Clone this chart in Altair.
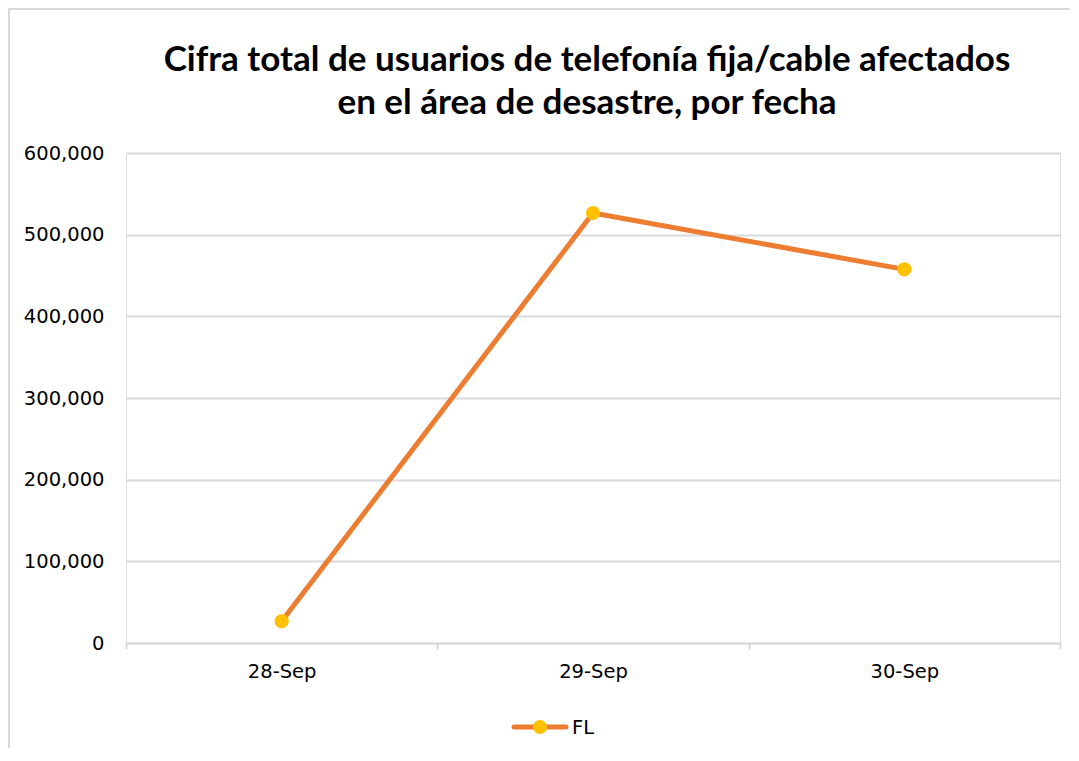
import altair as alt
import pandas as pd

dates = ["28-Sep", "29-Sep", "30-Sep"]
users = [26500, 526500, 457500]
series_name = "FL"
title_lines = ["Cifra total de usuarios de telefonía fija/cable afectados",
               "en el área de desastre, por fecha"]

df = pd.DataFrame({"fecha": dates, "usuarios": users, "serie": [series_name] * len(dates)})
one = pd.DataFrame({"serie": [series_name], "titulo": ["\n".join(title_lines)]})

LINE = "#ED7D31"
DOT = "#FFC000"
GRID = "#D9D9D9"
FONT = "DejaVu Sans"
FS = 19.5

x = alt.X("fecha:N", sort=dates, title=None,
          scale=alt.Scale(type="band", paddingInner=0, paddingOuter=0),
          axis=alt.Axis(labelAngle=0, tickBand="extent", ticks=True, tickSize=6,
                        tickColor=GRID, tickWidth=2, domainColor=GRID, domainWidth=2,
                        labelPadding=13, grid=False, labelFont=FONT, labelFontSize=FS,
                        labelColor="#000000"))
y = alt.Y("usuarios:Q", title=None,
          scale=alt.Scale(domain=[0, 600000], nice=False),
          axis=alt.Axis(values=[0, 100000, 200000, 300000, 400000, 500000, 600000],
                        format=",.0f", ticks=False, domain=False, gridColor=GRID, gridWidth=2,
                        labelPadding=22, labelFont=FONT, labelFontSize=FS,
                        labelColor="#000000"))

line = alt.Chart(df).mark_line(color=LINE, strokeWidth=5).encode(x=x, y=y)
pts = alt.Chart(df).mark_point(filled=True, color=DOT, size=200, opacity=1).encode(x=x, y=y)

frame = alt.Chart(one).mark_rect(fill=None, stroke=GRID, strokeWidth=2).encode(
    x=alt.value(-117), x2=alt.value(990), y=alt.value(-144), y2=alt.value(640))

title = alt.Chart(one).mark_text(font="Lato", fontSize=35, fontWeight="bold", color="#000000",
                                 align="center", baseline="middle", lineBreak="\n",
                                 lineHeight=43).encode(
    x=alt.value(461), y=alt.value(-93), text="titulo:N")

leg_rule = alt.Chart(one).mark_rule(color=LINE, strokeWidth=5, strokeCap="round").encode(
    x=alt.value(388), x2=alt.value(440), y=alt.value(574))
leg_pt = alt.Chart(one).mark_point(filled=True, color=DOT, size=200, opacity=1).encode(
    x=alt.value(414), y=alt.value(574))
leg_txt = alt.Chart(one).mark_text(align="left", baseline="middle", font=FONT, fontSize=FS,
                                   color="#000000").encode(
    x=alt.value(446), y=alt.value(575), text="serie:N")

chart = alt.layer(frame, title, line, pts, leg_rule, leg_pt, leg_txt).properties(
    width=934, height=490,
    autosize=alt.AutoSizeParams(type="none"),
    padding={"left": 118, "top": 145, "right": 10, "bottom": 105},
).configure_view(stroke=GRID, strokeWidth=2).configure(background="#FFFFFF")

chart.save("out.html", embed_options={"renderer": "svg", "actions": False})
